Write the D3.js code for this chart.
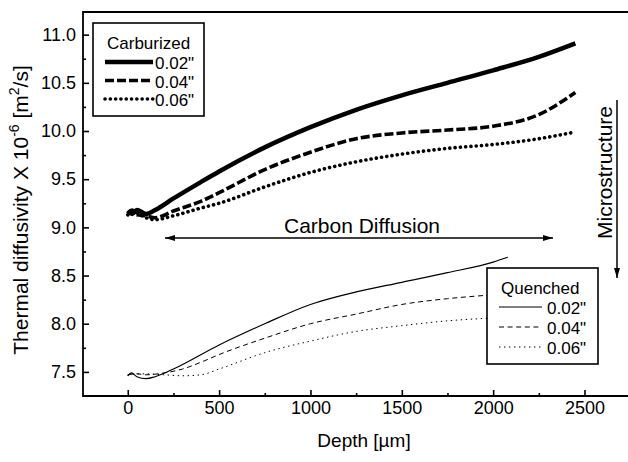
<!DOCTYPE html>
<html>
<head>
<meta charset="utf-8">
<script src="https://cdn.jsdelivr.net/npm/d3@7/dist/d3.min.js"></script>
<style>
  html, body { margin: 0; padding: 0; background: #fff; }
  svg { display: block; font-family: "Liberation Sans", Arial, Helvetica, sans-serif; }
</style>
</head>
<body>
<svg id="chart" width="628" height="462"></svg>
<script>
// Depth grids (µm)
const carbDepth = [0, 25, 50, 100, 150, 250, 400, 500, 750, 1000, 1250, 1500, 1750, 2000, 2250, 2450];
const quenchDepth02 = [0, 20, 50, 100, 150, 250, 500, 750, 1000, 1250, 1500, 1750, 2000, 2080];
const quenchDepth = [0, 50, 100, 200, 300, 400, 500, 750, 1000, 1250, 1500, 1750, 2000];

// Thermal diffusivity (×10^-6 m²/s), carburized samples
const carb002 = [9.17, 9.14, 9.18, 9.14, 9.18, 9.30, 9.47, 9.58, 9.83, 10.04, 10.22, 10.37, 10.50, 10.63, 10.77, 10.91];
const carb004 = [9.15, 9.18, 9.13, 9.12, 9.10, 9.17, 9.27, 9.36, 9.60, 9.78, 9.92, 9.98, 10.01, 10.05, 10.17, 10.40];
const carb006 = [9.13, 9.16, 9.15, 9.10, 9.08, 9.12, 9.20, 9.25, 9.42, 9.57, 9.68, 9.76, 9.82, 9.86, 9.92, 9.99];

// Quenched samples
const quench002 = [7.46, 7.49, 7.45, 7.43, 7.45, 7.53, 7.78, 8.00, 8.20, 8.33, 8.43, 8.53, 8.64, 8.69];
const quench004 = [7.47, 7.48, 7.47, 7.49, 7.53, 7.60, 7.68, 7.85, 8.00, 8.10, 8.20, 8.26, 8.30];
const quench006 = [7.47, 7.48, 7.48, 7.47, 7.46, 7.47, 7.53, 7.70, 7.82, 7.92, 7.98, 8.03, 8.06];

// Axis ticks
const xMajor = [0, 500, 1000, 1500, 2000, 2500];
const xMinor = [250, 750, 1250, 1750, 2250];
const yMajor = [7.5, 8.0, 8.5, 9.0, 9.5, 10.0, 10.5, 11.0];
const yMinor = [7.75, 8.25, 8.75, 9.25, 9.75, 10.25, 10.75];

const legendLabels = ['0.02"', '0.04"', '0.06"'];

const svg = d3.select("#chart");
const plotLeft = 83, plotRight = 632, plotTop = 12, plotBottom = 396;

const x = d3.scaleLinear().domain([-245, 2760]).range([plotLeft, plotRight]);
const y = d3.scaleLinear().domain([7.25, 11.235]).range([plotBottom, plotTop]);

// Arrow markers
const defs = svg.append("defs");
defs.append("marker")
  .attr("id", "arrowEnd").attr("viewBox", "0 0 10 6")
  .attr("refX", 10).attr("refY", 3)
  .attr("markerWidth", 10).attr("markerHeight", 6)
  .attr("markerUnits", "userSpaceOnUse").attr("orient", "auto")
  .append("path").attr("d", "M0,0 L10,3 L0,6 Z").attr("fill", "#000");
defs.append("marker")
  .attr("id", "arrowStart").attr("viewBox", "0 0 10 6")
  .attr("refX", 0).attr("refY", 3)
  .attr("markerWidth", 10).attr("markerHeight", 6)
  .attr("markerUnits", "userSpaceOnUse").attr("orient", "auto")
  .append("path").attr("d", "M10,0 L0,3 L10,6 Z").attr("fill", "#000");

// Axes (ticks point inward)
const gx = svg.append("g").attr("transform", `translate(0,${plotBottom})`)
  .call(d3.axisBottom(x).tickValues(xMajor).tickSize(-6).tickSizeOuter(0).tickPadding(5).tickFormat(d3.format("d")));
const gxm = svg.append("g").attr("transform", `translate(0,${plotBottom})`)
  .call(d3.axisBottom(x).tickValues(xMinor).tickSize(-3).tickSizeOuter(0).tickFormat(""));
const gy = svg.append("g").attr("transform", `translate(${plotLeft},0)`)
  .call(d3.axisLeft(y).tickValues(yMajor).tickSize(-6).tickSizeOuter(0).tickPadding(7).tickFormat(d3.format(".1f")));
const gym = svg.append("g").attr("transform", `translate(${plotLeft},0)`)
  .call(d3.axisLeft(y).tickValues(yMinor).tickSize(-3).tickSizeOuter(0).tickFormat(""));

[gx, gxm, gy, gym].forEach(g => {
  g.select(".domain").remove();
  g.selectAll(".tick line").attr("stroke", "#000").attr("stroke-width", 1.6);
  g.selectAll("text").attr("font-size", 18).attr("fill", "#000")
    .attr("font-family", '"Liberation Sans", Arial, sans-serif');
});

// Frame
svg.append("path")
  .attr("d", `M${plotRight},${plotTop} L${plotLeft},${plotTop} L${plotLeft},${plotBottom} L${plotRight},${plotBottom}`)
  .attr("fill", "none").attr("stroke", "#000").attr("stroke-width", 1.8);

// Series
const line = d3.line().x(d => x(d[0])).y(d => y(d[1])).curve(d3.curveMonotoneX);
const zip = (xs, ys) => xs.map((v, i) => [v, ys[i]]);

const series = [
  { pts: zip(carbDepth, carb002), w: 4.5, dash: null, cap: "butt" },
  { pts: zip(carbDepth, carb004), w: 3.6, dash: "9,3", cap: "butt" },
  { pts: zip(carbDepth, carb006), w: 3.6, dash: "0.1,5.2", cap: "round" },
  { pts: zip(quenchDepth02, quench002), w: 1.2, dash: null, cap: "butt" },
  { pts: zip(quenchDepth, quench004), w: 1.0, dash: "5,3.6", cap: "butt" },
  { pts: zip(quenchDepth, quench006), w: 1.0, dash: "1.4,3.6", cap: "butt" }
];

series.forEach(s => {
  svg.append("path").datum(s.pts).attr("d", line)
    .attr("fill", "none").attr("stroke", "#000")
    .attr("stroke-width", s.w).attr("stroke-linecap", s.cap)
    .attr("stroke-linejoin", "round")
    .attr("stroke-dasharray", s.dash);
});

// Legends
function legend(box, title, styles, lineX0, lineX1, textX, firstLine, step, titleY) {
  svg.append("rect").attr("x", box[0]).attr("y", box[1])
    .attr("width", box[2]).attr("height", box[3])
    .attr("fill", "#fff").attr("stroke", "#000").attr("stroke-width", 1.6);
  svg.append("text").attr("x", lineX0 + 2).attr("y", titleY)
    .attr("font-size", 17).text(title);
  styles.forEach((s, i) => {
    const ly = firstLine + i * step;
    svg.append("line").attr("x1", lineX0).attr("x2", lineX1)
      .attr("y1", ly).attr("y2", ly)
      .attr("stroke", "#000").attr("stroke-width", s.w)
      .attr("stroke-linecap", s.cap).attr("stroke-dasharray", s.dash);
    svg.append("text").attr("x", textX).attr("y", ly + 7)
      .attr("font-size", 17).text(legendLabels[i]);
  });
}
legend([93, 23, 111, 93], "Carburized", series.slice(0, 3), 105, 153, 155, 62, 18.5, 49);
legend([487, 268, 111, 96], "Quenched", series.slice(3), 499, 542, 547, 307, 20, 294);

// Annotations
svg.append("line").attr("x1", 165).attr("x2", 553).attr("y1", 238).attr("y2", 238)
  .attr("stroke", "#000").attr("stroke-width", 1.5)
  .attr("marker-start", "url(#arrowStart)").attr("marker-end", "url(#arrowEnd)");
svg.append("text").attr("x", 362).attr("y", 233).attr("text-anchor", "middle")
  .attr("font-size", 21).text("Carbon Diffusion");

svg.append("line").attr("x1", 617).attr("x2", 617).attr("y1", 100).attr("y2", 278)
  .attr("stroke", "#000").attr("stroke-width", 1.5)
  .attr("marker-end", "url(#arrowEnd)");
svg.append("text").attr("transform", "translate(612,239) rotate(-90)")
  .attr("font-size", 21).text("Microstructure");

// Axis titles
svg.append("text").attr("x", 364).attr("y", 447).attr("text-anchor", "middle")
  .attr("font-size", 19).text("Depth [\u00B5m]");

const yl = svg.append("text").attr("transform", "translate(28,210) rotate(-90)")
  .attr("text-anchor", "middle").attr("font-size", 21);
yl.append("tspan").text("Thermal diffusivity X 10");
yl.append("tspan").attr("font-size", 14).attr("dy", -9).text("-6");
yl.append("tspan").attr("dy", 9).text(" [m");
yl.append("tspan").attr("font-size", 14).attr("dy", -9).text("2");
yl.append("tspan").attr("dy", 9).text("/s]");
</script>
</body>
</html>
